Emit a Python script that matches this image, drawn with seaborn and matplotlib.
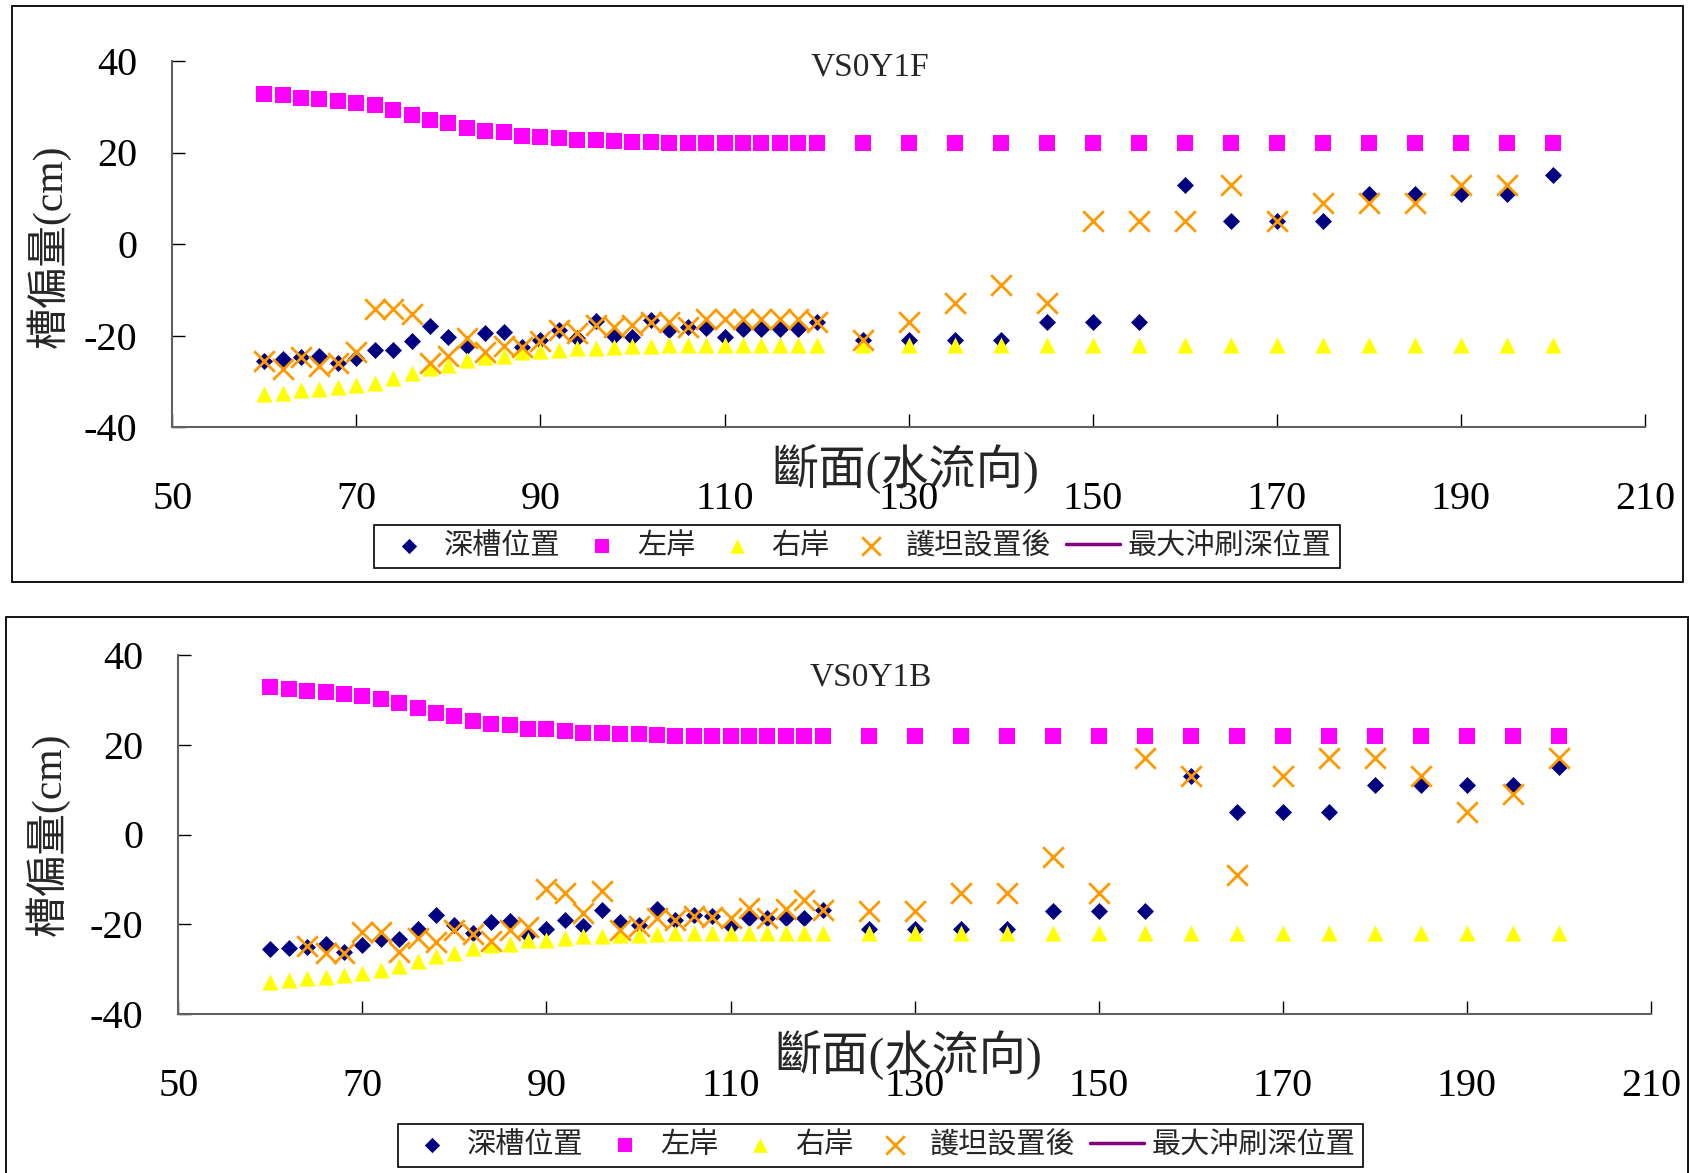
import matplotlib
matplotlib.use("Agg")
import matplotlib.pyplot as plt
from matplotlib.patches import Rectangle
import numpy as np
import pandas as pd
import seaborn as sns

# ---- cross-section stations (flow direction) ----
sections = [60, 62, 64, 66, 68, 70, 72, 74, 76, 78, 80, 82, 84, 86, 88, 90,
            92, 94, 96, 98, 100, 102, 104, 106, 108, 110, 112, 114, 116, 118, 120,
            125, 130, 135, 140, 145, 150, 155, 160, 165, 170, 175, 180, 185, 190,
            195, 200]

# ---- channel banks (cm) ----
left_bank = [32.8, 32.5, 32.0, 31.8, 31.3, 30.9, 30.3, 29.3, 28.3, 27.0, 26.5,
             25.4, 24.6, 24.4, 23.6, 23.4, 23.1, 22.7, 22.7, 22.5, 22.3, 22.2,
             22.0, 22.0, 22.0, 22.0, 22.0, 22.0, 22.0, 22.0, 22.0,
             22.0, 22.0, 22.0, 22.0, 22.0, 22.0, 22.0, 22.0, 22.0, 22.0, 22.0,
             22.0, 22.0, 22.0, 22.0, 22.0]
right_bank = [-32.8, -32.5, -32.0, -31.8, -31.3, -30.9, -30.3, -29.3, -28.3,
              -27.0, -26.5, -25.4, -24.6, -24.4, -23.6, -23.4, -23.1, -22.7,
              -22.7, -22.5, -22.3, -22.2, -22.0, -22.0, -22.0, -22.0, -22.0,
              -22.0, -22.0, -22.0, -22.0,
              -22.0, -22.0, -22.0, -22.0, -22.0, -22.0, -22.0, -22.0, -22.0,
              -22.0, -22.0, -22.0, -22.0, -22.0, -22.0, -22.0]

# ---- case VS0Y1F ----
thalweg_f = [-25.6, -25.2, -24.8, -24.5, -26.1, -25.0, -23.2, -23.2, -21.1,
             -17.9, -20.4, -22.3, -19.5, -19.2, -22.6, -21.0, -18.9, -20.6,
             -16.8, -20.1, -20.4, -16.6, -18.9, -18.1, -18.4, -20.3, -18.6,
             -18.6, -18.6, -18.6, -17.0,
             -21.0, -21.0, -21.0, -21.0, -17.0, -17.0, -17.0, 13.0, 5.0, 5.0,
             5.0, 11.0, 11.0, 11.0, 11.0, 15.0]
apron_f = [-25.6, -27.4, -24.8, -26.7, -26.1, -23.5, -14.2, -14.2, -15.2,
           -26.1, -24.5, -20.6, -23.5, -22.4, -22.6, -21.3, -18.9, -19.4,
           -17.7, -18.1, -17.7, -17.0, -17.0, -18.1, -16.5, -16.5, -16.5,
           -16.5, -16.5, -16.5, -17.0,
           -21.0, -17.0, -13.0, -9.0, -13.0, 5.0, 5.0, 5.0, 13.0, 5.0, 9.0,
           9.0, 9.0, 13.0, 13.0, np.nan]

# ---- case VS0Y1B ----
thalweg_b = [-25.6, -25.4, -25.0, -24.5, -26.1, -24.6, -23.3, -23.3, -21.1,
             -17.9, -20.2, -22.0, -19.6, -19.2, -22.3, -21.1, -19.1, -20.4,
             -16.8, -19.6, -20.2, -16.7, -19.1, -17.9, -18.2, -20.3, -18.5,
             -18.5, -18.7, -18.5, -16.8,
             -21.0, -21.0, -21.0, -21.0, -17.0, -17.0, -17.0, 13.0, 5.0, 5.0,
             5.0, 11.0, 11.0, 11.0, 11.0, 15.0]
apron_b = [np.nan, np.nan, -24.8, -26.3, -26.3, -21.7, -21.8, -26.1, -23.1,
           -23.9, -21.3, -22.2, -23.7, -21.3, -20.7, -12.2, -13.1, -17.6,
           -12.7, -21.3, -20.5, -18.7, -19.1, -18.2, -18.3, -18.7, -16.4,
           -18.7, -16.7, -14.6, -16.8,
           -17.0, -17.0, -13.0, -13.0, -5.0, -13.0, 17.0, 13.0, -9.0, 13.0,
           17.0, 17.0, 13.0, 5.0, 9.0, 17.0]

# maximum scour position (no records in these runs)
max_scour_x = []
max_scour_y = []

series_names = ["深槽位置", "左岸", "右岸", "護坦設置後", "最大沖刷深位置"]
x_ticks = [50, 70, 90, 110, 130, 150, 170, 190, 210]
y_ticks = [-40, -20, 0, 20, 40]

sns.set_style("white")
plt.rcParams["font.family"] = ["Liberation Serif", "Noto Sans CJK TC", "DejaVu Sans"]
plt.rcParams["axes.unicode_minus"] = False

W, H = 1691, 1173
fig = plt.figure(figsize=(W / 100, H / 100), dpi=100)


def fx(px):
    return px / W


def fy(py):
    return 1 - py / H


# outer frames around each chart
fig.add_artist(Rectangle((fx(11.5), fy(582)), fx(1683) - fx(11.5), fy(6) - fy(582),
                         transform=fig.transFigure, fill=False, edgecolor="black",
                         linewidth=1.3))
fig.add_artist(Rectangle((fx(6), fy(1240)), fx(1688) - fx(6), fy(616.7) - fy(1240),
                         transform=fig.transFigure, fill=False, edgecolor="black",
                         linewidth=1.3, clip_on=False))

panels = [
    dict(name="VS0Y1F", thalweg=thalweg_f, apron=apron_f,
         box=(172.2, 61, 1645, 427), title_pos=(0.474, 0.9836),
         ylabel_pos=(-0.0842, 0.4945), xlabel_pos=(0.4976, -0.1148),
         legend_center=(857, 546.5)),
    dict(name="VS0Y1B", thalweg=thalweg_b, apron=apron_b,
         box=(178.3, 655, 1651, 1014), title_pos=(0.4704, 0.9387),
         ylabel_pos=(-0.0885, 0.501), xlabel_pos=(0.496, -0.114),
         legend_center=(880.5, 1145.5)),
]

for p in panels:
    l, t, r, b = p["box"]
    ax = fig.add_axes([fx(l), fy(b), fx(r) - fx(l), fy(t) - fy(b)])
    df = pd.DataFrame({"section": sections, "thalweg": p["thalweg"],
                       "left": left_bank, "right": right_bank, "apron": p["apron"]})

    sns.scatterplot(data=df, x="section", y="thalweg", marker="D", s=75,
                    color="#000080", linewidth=0, label=series_names[0], ax=ax,
                    zorder=3)
    sns.scatterplot(data=df, x="section", y="left", marker="s", s=120,
                    color="#FF00FF", linewidth=0, label=series_names[1], ax=ax,
                    zorder=3)
    sns.scatterplot(data=df, x="section", y="right", marker="^", s=135,
                    color="#FFFF00", linewidth=0, label=series_names[2], ax=ax,
                    zorder=3)
    sns.scatterplot(data=df, x="section", y="apron", marker="x", s=220,
                    color="#FF9900", linewidth=2.0, label=series_names[3], ax=ax,
                    zorder=4)
    ax.plot(max_scour_x, max_scour_y, color="#800080", linewidth=2.5,
            label=series_names[4])

    ax.set_xlim(50, 210)
    ax.set_ylim(-40, 40)
    ax.set_xticks(x_ticks)
    ax.set_yticks(y_ticks)
    ax.set_xticklabels([str(v) for v in x_ticks])
    ax.set_yticklabels([str(v) for v in y_ticks])
    ax.tick_params(axis="both", direction="in", length=9.5, width=1.0,
                   colors="black", labelsize=29, bottom=True, left=True)
    ax.tick_params(axis="x", pad=39)
    ax.tick_params(axis="y", pad=25)
    for side in ["top", "right"]:
        ax.spines[side].set_visible(False)
    for side in ["left", "bottom"]:
        ax.spines[side].set_color("#606060")
        ax.spines[side].set_linewidth(1.5)
    ax.grid(False)
    ax.patch.set_alpha(0)

    ax.set_xlabel("斷面(水流向)", fontsize=34)
    ax.set_ylabel("槽偏量(cm)", fontsize=30)
    ax.xaxis.set_label_coords(*p["xlabel_pos"])
    ax.xaxis.label.set_va("center")
    ax.yaxis.set_label_coords(*p["ylabel_pos"])
    ax.yaxis.label.set_va("center")

    ax.text(p["title_pos"][0], p["title_pos"][1], p["name"], transform=ax.transAxes,
            ha="center", va="center", fontsize=24)

    handles, labels = ax.get_legend_handles_labels()
    leg_ax = ax.get_legend()
    if leg_ax is not None:
        leg_ax.remove()
    cx, cy = p["legend_center"]
    leg = fig.legend(handles, labels, loc="center", bbox_to_anchor=(fx(cx), fy(cy)),
                     ncol=5, fontsize=21, frameon=True, fancybox=False,
                     edgecolor="black", framealpha=1, handlelength=1.85,
                     handletextpad=0.27, columnspacing=0.5, borderpad=0.27,
                     markerscale=0.9)
    leg.get_frame().set_linewidth(1.2)

fig.savefig("out.png", dpi=100)
